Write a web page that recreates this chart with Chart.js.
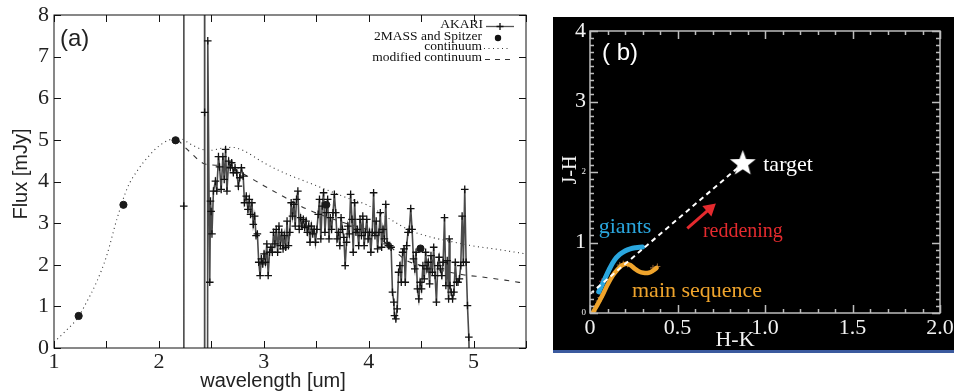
<!DOCTYPE html>
<html>
<head>
<meta charset="utf-8">
<script src="https://cdn.jsdelivr.net/npm/chart.js@4.4.0/dist/chart.umd.min.js"></script>
<style>
  body { margin: 0; background: #fff; }
  #left { position: absolute; left: 0; top: 0; }
  #rightBox { position: absolute; left: 553px; top: 17px; width: 401px; height: 333px; background: #000; }
  #blueBar { position: absolute; left: 553px; top: 350px; width: 401px; height: 3px; background: #3b5a9e; }
</style>
</head>
<body>
<canvas id="left" width="540" height="392"></canvas>
<div id="rightBox"><canvas id="right" width="401" height="333"></canvas></div>
<div id="blueBar"></div>
<script>
// (a) AKARI spectrum
const akariWave = [2.235, 2.237, 2.239, 2.434, 2.436, 2.438, 2.458, 2.466, 2.485, 2.492, 2.498, 2.506,
  2.520, 2.539, 2.552, 2.568, 2.578, 2.594, 2.610, 2.623, 2.636, 2.649, 2.665, 2.681, 2.694, 2.710,
  2.726, 2.742, 2.758, 2.771, 2.787, 2.804, 2.816, 2.833, 2.849, 2.862, 2.874, 2.887, 2.900, 2.913,
  2.926, 2.939, 2.952, 2.965, 2.977, 2.990, 3.003, 3.016, 3.029, 3.042, 3.055, 3.068, 3.081, 3.093,
  3.106, 3.119, 3.132, 3.145, 3.158, 3.171, 3.184, 3.196, 3.209, 3.222, 3.235, 3.248, 3.261, 3.274,
  3.287, 3.300, 3.312, 3.325, 3.338, 3.351, 3.364, 3.377, 3.390, 3.403, 3.415, 3.428, 3.441, 3.454,
  3.467, 3.480, 3.493, 3.506, 3.519, 3.531, 3.544, 3.557, 3.570, 3.583, 3.596, 3.609, 3.622, 3.634,
  3.647, 3.660, 3.673, 3.686, 3.699, 3.712, 3.725, 3.737, 3.750, 3.763, 3.776, 3.789, 3.802, 3.815,
  3.828, 3.841, 3.853, 3.866, 3.879, 3.892, 3.905, 3.918, 3.931, 3.944, 3.957, 3.969, 3.982, 3.995,
  4.008, 4.021, 4.034, 4.047, 4.060, 4.072, 4.085, 4.098, 4.111, 4.124, 4.137, 4.150, 4.163, 4.176,
  4.188, 4.201, 4.214, 4.227, 4.240, 4.246, 4.259, 4.272, 4.285, 4.298, 4.311, 4.324, 4.337, 4.349,
  4.362, 4.375, 4.388, 4.401, 4.414, 4.427, 4.440, 4.452, 4.465, 4.478, 4.491, 4.504, 4.517, 4.530,
  4.543, 4.556, 4.568, 4.581, 4.594, 4.607, 4.620, 4.633, 4.646, 4.659, 4.671, 4.684, 4.697, 4.710,
  4.723, 4.736, 4.749, 4.762, 4.768, 4.775, 4.787, 4.800, 4.813, 4.826, 4.839, 4.852, 4.865, 4.878,
  4.891, 4.903, 4.916, 4.929, 4.942, 4.955, 4.968];
const akariFlux = [-30, 3.41, 40, 40, 5.66, -30, -30, 7.38, 1.58, 3.53, 3.28, 2.74,
  3.77, 4.01, 3.77, 4.60, 4.35, 3.81, 4.60, 4.05, 4.77, 3.77, 4.49, 4.33, 4.45, 4.21,
  4.33, 4.21, 3.89, 4.09, 4.33, 4.13, 3.49, 3.65, 3.33, 3.57, 3.21, 3.49, 2.97, 3.17,
  2.70, 2.74, 2.06, 1.74, 2.14, 2.02, 2.26, 2.06, 2.50, 1.74, 2.30, 2.42, 2.30, 2.78,
  2.50, 2.85, 2.30, 2.93, 2.46, 2.78, 2.38, 2.70, 2.42, 3.05, 2.46, 2.78, 3.49, 3.17,
  3.45, 2.93, 3.57, 3.77, 2.85, 3.13, 2.93, 3.09, 2.89, 3.05, 2.78, 2.93, 2.54, 2.93,
  2.74, 2.85, 2.54, 2.85, 3.21, 3.57, 2.62, 3.41, 3.73, 2.78, 3.25, 3.57, 2.62, 3.13,
  2.85, 3.25, 3.69, 3.25, 2.62, 2.78, 2.46, 3.13, 2.85, 2.66, 1.98, 2.54, 2.93, 2.74,
  3.69, 3.09, 2.30, 3.49, 2.78, 2.85, 2.46, 3.09, 2.70, 3.17, 2.46, 2.78, 3.09, 2.62,
  2.78, 2.30, 2.78, 3.73, 2.70, 3.05, 2.38, 2.78, 3.25, 2.42, 2.85, 2.62, 3.45, 2.50,
  2.46, 2.46, 2.42, 1.34, 1.10, 0.78, 0.70, 0.94, 1.82, 1.98, 1.58, 2.30, 2.38, 1.58,
  2.46, 2.78, 2.85, 3.35, 2.85, 2.14, 1.90, 2.30, 1.42, 1.18, 1.58, 1.42, 1.98, 1.66,
  2.30, 1.90, 2.06, 1.54, 2.22, 1.82, 2.42, 1.74, 1.10, 1.98, 2.18, 1.90, 1.74, 2.06,
  3.13, 1.50, 2.10, 1.18, 2.62, 1.50, 1.34, 1.18, 1.34, 2.06, 1.58, 1.58, 1.66, 1.98,
  3.17, 2.06, 3.81, 2.06, 1.02, 0.26, -1.5];

const photWave = [1.235, 1.662, 2.159, 3.596, 4.494];
const photFlux = [0.77, 3.44, 4.99, 3.44, 2.39];

const contWave = [1.0, 1.1, 1.23, 1.3, 1.4, 1.5, 1.6, 1.7, 1.8, 1.9, 2.0, 2.1, 2.2, 2.3, 2.4, 2.5,
  2.6, 2.7, 2.8, 3.0, 3.2, 3.4, 3.6, 3.8, 4.0, 4.2, 4.4, 4.6, 4.8, 5.0, 5.2, 5.5];
const contFlux = [0.14, 0.38, 0.74, 1.05, 1.55, 2.2, 3.1, 3.85, 4.28, 4.6, 4.85, 5.0, 5.03, 4.9, 4.78, 4.75,
  4.8, 4.82, 4.75, 4.45, 4.2, 4.0, 3.8, 3.6, 3.42, 3.1, 2.82, 2.66, 2.55, 2.45, 2.38, 2.26];

const modWave = [2.18, 2.3, 2.44, 2.6, 2.75, 3.0, 3.2, 3.4, 3.6, 3.8, 4.0, 4.2, 4.35, 4.5, 4.7, 4.9, 5.1, 5.3, 5.5];
const modFlux = [5.0, 4.7, 4.42, 4.38, 4.25, 3.9, 3.62, 3.35, 3.15, 2.98, 2.82, 2.45, 2.12, 1.98, 1.86, 1.76, 1.7, 1.63, 1.55];

const waveTicks = [1, 2, 3, 4, 5];

// (b) colour-colour diagram
const giantsHK = [0.05, 0.08, 0.11, 0.14, 0.17, 0.20, 0.23, 0.26, 0.30];
const giantsJH = [0.30, 0.46, 0.62, 0.75, 0.83, 0.88, 0.91, 0.925, 0.935];
const msHK = [0.015, 0.045, 0.075, 0.10, 0.13, 0.155, 0.18, 0.205, 0.23, 0.255, 0.28, 0.305, 0.335, 0.36, 0.38];
const msJH = [0.0, 0.13, 0.27, 0.40, 0.53, 0.61, 0.67, 0.70, 0.68, 0.63, 0.59, 0.57, 0.57, 0.60, 0.64];
const msMarkHK = [0.02, 0.035, 0.05, 0.06, 0.07, 0.17, 0.19, 0.215, 0.36, 0.385];
const msMarkJH = [0.02, 0.10, 0.17, 0.22, 0.28, 0.68, 0.70, 0.69, 0.64, 0.66];
const redMarkHK = [0.07, 0.08];
const redMarkJH = [0.45, 0.48];
const reddenHK = [0.0, 0.873];
const reddenJH = [0.27, 2.12];
const targetHK = [0.873];
const targetJH = [2.12];
const arrowHK = [0.556, 0.685];
const arrowJH = [1.20, 1.48];

const pts = (xs, ys) => xs.map((x, i) => ({ x, y: ys[i] }));
const SERIF = 'Liberation Serif';
const SANS = 'Liberation Sans';

// ticks pointing inward on all four sides, plus the frame
const frameTicks = {
  id: 'frameTicks',
  afterDatasetsDraw(chart, args, o) {
    const { ctx, chartArea: a } = chart;
    const xs = chart.scales.x, ys = chart.scales.y;
    ctx.save();
    ctx.strokeStyle = o.color;
    ctx.lineWidth = o.width;
    ctx.beginPath();
    xs.ticks.forEach(t => {
      const px = Math.round(xs.getPixelForValue(t.value)) + 0.5;
      const len = t.label !== '' ? o.major : o.minor;
      ctx.moveTo(px, a.bottom); ctx.lineTo(px, a.bottom - len);
      ctx.moveTo(px, a.top); ctx.lineTo(px, a.top + len);
    });
    ys.ticks.forEach(t => {
      const py = Math.round(ys.getPixelForValue(t.value)) + 0.5;
      const len = t.label !== '' ? o.major : o.minor;
      ctx.moveTo(a.left, py); ctx.lineTo(a.left + len, py);
      ctx.moveTo(a.right, py); ctx.lineTo(a.right - len, py);
    });
    ctx.stroke();
    ctx.strokeRect(a.left, a.top, a.right - a.left, a.bottom - a.top);
    ctx.restore();
  }
};

const leftText = {
  id: 'leftText',
  afterDraw(chart) {
    const { ctx, chartArea: a } = chart;
    ctx.save();
    ctx.fillStyle = '#222';
    ctx.font = '24px ' + SANS;
    ctx.textBaseline = 'middle';
    ctx.fillText('(a)', a.left + 6, a.top + 24);
    ctx.font = '20px ' + SANS;
    ctx.textAlign = 'center';
    ctx.fillText('wavelength [um]', 273, 381);
    ctx.translate(21, 174);
    ctx.rotate(-Math.PI / 2);
    ctx.fillText('Flux [mJy]', 0, 0);
    ctx.restore();

    // legend
    ctx.save();
    ctx.font = '13.5px ' + SERIF;
    ctx.fillStyle = '#111';
    ctx.textAlign = 'right';
    ctx.textBaseline = 'middle';
    ctx.fillText('AKARI', 483, 24);
    ctx.fillText('2MASS and Spitzer', 482, 36);
    ctx.fillText('continuum', 482, 46);
    ctx.fillText('modified continuum', 482, 57);
    ctx.strokeStyle = '#555';
    ctx.lineWidth = 1.3;
    ctx.beginPath(); ctx.moveTo(486, 26.5); ctx.lineTo(514, 26.5); ctx.stroke();
    ctx.strokeStyle = '#111';
    ctx.beginPath(); ctx.moveTo(500, 23); ctx.lineTo(500, 30); ctx.moveTo(496.5, 26.5); ctx.lineTo(503.5, 26.5); ctx.stroke();
    ctx.beginPath(); ctx.arc(498, 38, 3.2, 0, Math.PI * 2); ctx.fill();
    ctx.lineWidth = 1;
    ctx.strokeStyle = '#333';
    ctx.setLineDash([1, 3.5]);
    ctx.beginPath(); ctx.moveTo(484, 48.5); ctx.lineTo(511, 48.5); ctx.stroke();
    ctx.setLineDash([5, 5]);
    ctx.beginPath(); ctx.moveTo(485, 59.5); ctx.lineTo(510, 59.5); ctx.stroke();
    ctx.restore();
  }
};

new Chart(document.getElementById('left'), {
  type: 'scatter',
  data: {
    datasets: [
      {
        label: '2MASS and Spitzer',
        data: pts(photWave, photFlux),
        pointRadius: 3.6,
        pointBackgroundColor: '#1a1a1a',
        pointBorderColor: '#1a1a1a',
        showLine: false
      },
      {
        label: 'AKARI',
        data: pts(akariWave, akariFlux),
        showLine: true,
        borderColor: '#4a4a4a',
        borderWidth: 1.6,
        pointStyle: 'cross',
        pointRadius: 3.8,
        pointBorderColor: '#111',
        pointBorderWidth: 1.3
      },
      {
        label: 'continuum',
        data: pts(contWave, contFlux),
        showLine: true,
        borderColor: '#333',
        borderWidth: 1.1,
        borderDash: [1, 3.5],
        pointRadius: 0,
        cubicInterpolationMode: 'monotone'
      },
      {
        label: 'modified continuum',
        data: pts(modWave, modFlux),
        showLine: true,
        borderColor: '#333',
        borderWidth: 1.1,
        borderDash: [5, 6],
        pointRadius: 0,
        cubicInterpolationMode: 'monotone'
      }
    ]
  },
  options: {
    responsive: false,
    animation: false,
    layout: { padding: { top: 15, right: 14, left: 0, bottom: 0 } },
    plugins: {
      legend: { display: false },
      tooltip: { enabled: false },
      frameTicks: { color: '#111', width: 1, major: 7, minor: 7 }
    },
    scales: {
      x: {
        type: 'linear', min: 1, max: 5.5,
        grid: { display: false, drawTicks: false },
        border: { display: false },
        ticks: {
          stepSize: 0.5, autoSkip: false, maxRotation: 0, padding: 1,
          color: '#222', font: { family: SERIF, size: 22 },
          callback: v => waveTicks.includes(v) ? String(v) : ''
        },
        afterFit: s => { s.height = 44; s.paddingLeft = 0; s.paddingRight = 0; }
      },
      y: {
        min: 0, max: 8,
        grid: { display: false, drawTicks: false },
        border: { display: false },
        ticks: { stepSize: 1, padding: 5, color: '#222', font: { family: SERIF, size: 22 } },
        afterFit: s => { s.width = 54; s.paddingTop = 0; s.paddingBottom = 0; }
      }
    }
  },
  plugins: [frameTicks, leftText]
});

// filled five point star for the target
function makeStar(r) {
  const c = document.createElement('canvas');
  c.width = c.height = Math.ceil(r * 2 + 2);
  const g = c.getContext('2d');
  g.fillStyle = '#fff';
  g.beginPath();
  for (let i = 0; i < 10; i++) {
    const rad = i % 2 ? r * 0.42 : r;
    const ang = -Math.PI / 2 + i * Math.PI / 5;
    g.lineTo(c.width / 2 + rad * Math.cos(ang), c.height / 2 + rad * Math.sin(ang));
  }
  g.closePath();
  g.fill();
  return c;
}

const rightText = {
  id: 'rightText',
  afterDraw(chart) {
    const { ctx, chartArea: a, scales: { x, y } } = chart;
    const put = (txt, hk, jh, color, size) => {
      ctx.fillStyle = color;
      ctx.font = size + 'px ' + SERIF;
      ctx.fillText(txt, x.getPixelForValue(hk), y.getPixelForValue(jh));
    };
    ctx.save();
    ctx.textBaseline = 'middle';
    ctx.fillStyle = '#fff';
    ctx.font = '24px ' + SANS;
    ctx.fillText('( b)', a.left + 12, a.top + 22);
    put('target', 0.99, 2.10, '#fff', 22);
    put('giants', 0.05, 1.22, '#2aa6de', 22);
    put('reddening', 0.645, 1.15, '#e42a2e', 20);
    put('main sequence', 0.24, 0.305, '#efa42c', 22);
    ctx.fillStyle = '#f2f2f2';
    ctx.textAlign = 'center';
    ctx.font = '22px ' + SERIF;
    ctx.fillText('H-K', 182, 323);
    ctx.font = '20px ' + SERIF;
    ctx.translate(18, 153);
    ctx.rotate(-Math.PI / 2);
    ctx.fillText('J-H', 0, 0);
    ctx.restore();
  }
};

const isInt = v => Math.abs(v - Math.round(v)) < 1e-6;
const isHalf = v => Math.abs(v * 2 - Math.round(v * 2)) < 1e-6;

new Chart(document.getElementById('right'), {
  type: 'scatter',
  data: {
    datasets: [
      {
        label: 'target',
        data: pts(targetHK, targetJH),
        pointStyle: makeStar(13.5),
        pointRadius: 13
      },
      {
        label: 'reddening vector',
        data: pts(reddenHK, reddenJH),
        showLine: true,
        borderColor: '#fff',
        borderWidth: 2,
        borderDash: [5, 4],
        pointRadius: 0
      },
      {
        label: 'reddening arrow',
        data: pts(arrowHK, arrowJH),
        showLine: true,
        borderColor: '#e42a2e',
        borderWidth: 3,
        pointStyle: 'triangle',
        pointRadius: [0, 5],
        pointRotation: 49,
        pointBackgroundColor: '#e42a2e',
        pointBorderColor: '#e42a2e'
      },
      {
        label: 'giants',
        data: pts(giantsHK, giantsJH),
        showLine: true,
        borderColor: '#2aa6de',
        borderWidth: 5,
        borderCapStyle: 'round',
        pointRadius: 0,
        tension: 0.4
      },
      {
        label: 'main sequence',
        data: pts(msHK, msJH),
        showLine: true,
        borderColor: '#efa42c',
        borderWidth: 4.5,
        borderCapStyle: 'round',
        pointRadius: 0,
        tension: 0.4
      },
      {
        label: 'ms marks',
        data: pts(msMarkHK, msMarkJH),
        pointStyle: 'cross',
        pointRadius: 3,
        pointBorderColor: '#9a6b3a',
        pointBorderWidth: 1
      },
      {
        label: 'red marks',
        data: pts(redMarkHK, redMarkJH),
        pointStyle: 'cross',
        pointRadius: 3,
        pointBorderColor: '#b0262a',
        pointBorderWidth: 1
      }
    ]
  },
  options: {
    responsive: false,
    animation: false,
    layout: { padding: { top: 8, right: 7, left: 0, bottom: 0 } },
    plugins: {
      legend: { display: false },
      tooltip: { enabled: false },
      frameTicks: { color: '#bdbdbd', width: 1.5, major: 8, minor: 4 }
    },
    scales: {
      x: {
        type: 'linear', min: 0, max: 2,
        grid: { display: false, drawTicks: false },
        border: { display: false },
        ticks: {
          stepSize: 0.1, autoSkip: false, maxRotation: 0, padding: 2,
          color: '#f2f2f2', font: { family: SERIF, size: 22 },
          callback: v => isHalf(v) ? (Math.abs(v) < 1e-6 ? '0' : v.toFixed(1)) : ''
        },
        afterFit: s => { s.height = 37; s.paddingLeft = 0; s.paddingRight = 0; }
      },
      y: {
        min: 0, max: 4,
        grid: { display: false, drawTicks: false },
        border: { display: false },
        ticks: {
          stepSize: 0.1, autoSkip: false, padding: 4, color: '#f2f2f2',
          font: ctx => {
            const v = ctx.tick ? ctx.tick.value : 1;
            const small = Math.abs(v) < 1e-6 || Math.abs(v - 2) < 1e-6;
            return { family: SERIF, size: small ? 9 : 22 };
          },
          callback: v => isInt(v) ? String(Math.round(v)) : ''
        },
        afterFit: s => { s.width = 37; s.paddingTop = 0; s.paddingBottom = 0; }
      }
    }
  },
  plugins: [frameTicks, rightText]
});
</script>
</body>
</html>
